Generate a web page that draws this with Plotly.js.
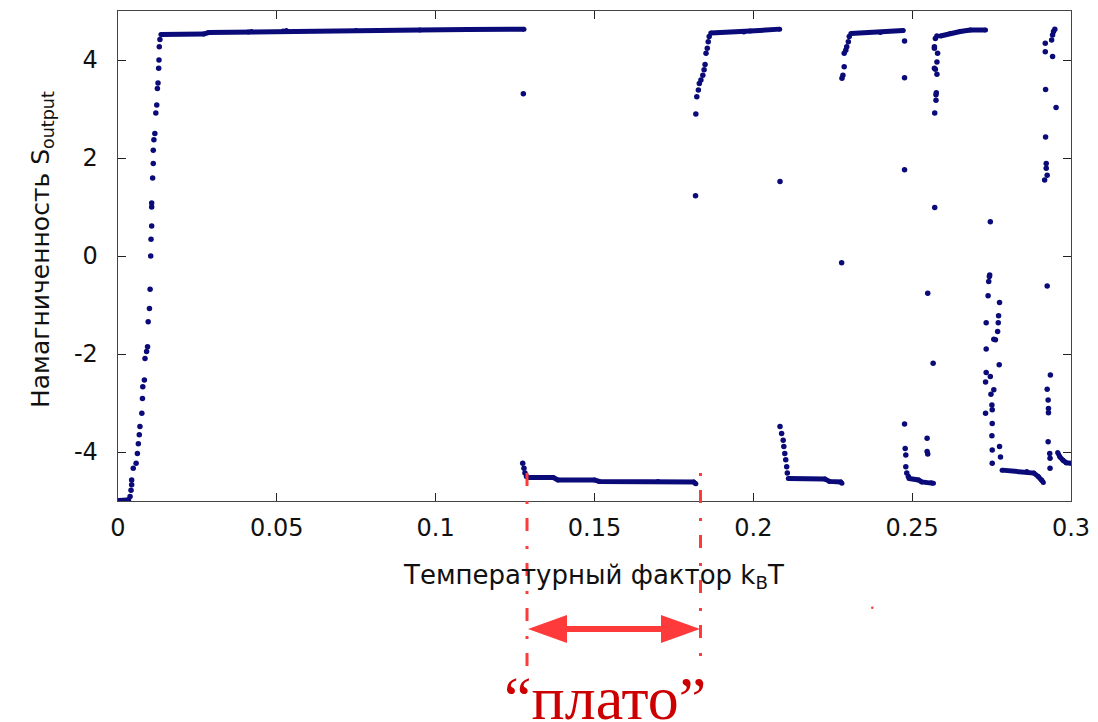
<!DOCTYPE html>
<html>
<head>
<meta charset="utf-8">
<script src="https://cdn.plot.ly/plotly-3.0.1.min.js"></script>
<style>html,body{margin:0;padding:0;background:#fff;}#chart{width:1098px;height:722px;}</style>
</head>
<body>
<div id="chart"></div>
<script>
// Dense plateau segments (null separates segments)
const bandX = [
  0.0003, 0.0030, null,
  0.0135, 0.0270, 0.0285, 0.0410, 0.0420, 0.0520, 0.0530, 0.0750, 0.0950, 0.1100, 0.1278, null,
  0.1292, 0.1370, 0.1385, 0.1500, 0.1515, 0.1700, 0.1812, 0.1819, null,
  0.1866, 0.1970, 0.1990, 0.2083, null,
  0.2110, 0.2225, 0.2240, 0.2275, 0.2279, null,
  0.2307, 0.2400, 0.2472, null,
  0.2490, 0.2520, 0.2530, 0.2560, 0.2567, null,
  0.2589, 0.2620, 0.2651, 0.2683, 0.2731, null,
  0.2783, 0.2861, 0.2883, 0.2897, 0.2908, 0.2913, null,
  0.2958, 0.2965, 0.2975, 0.2985, 0.3000
];
const bandY = [
  -4.99, -4.98, null,
  4.52, 4.53, 4.56, 4.57, 4.58, 4.59, 4.60, 4.60, 4.61, 4.62, 4.63, null,
  -4.52, -4.52, -4.57, -4.57, -4.60, -4.60, -4.61, -4.65, null,
  4.55, 4.57, 4.59, 4.63, null,
  -4.54, -4.55, -4.60, -4.61, -4.64, null,
  4.54, 4.56, 4.60, null,
  -4.54, -4.57, -4.61, -4.63, -4.64, null,
  4.49, 4.54, 4.58, 4.61, 4.61, null,
  -4.37, -4.40, -4.43, -4.50, -4.57, -4.62, null,
  -4.01, -4.10, -4.17, -4.22, -4.23
];

// Individual sample points
const ptX = [
  0.0033, 0.0038, 0.0041, 0.0043, 0.0043, 0.0048, 0.0057, 0.0061, 0.0064, 0.0067,
  0.0069, 0.0075, 0.0077, 0.0078, 0.0083, 0.0085, 0.0090, 0.0093, 0.0095, 0.0099,
  0.0101, 0.0103, 0.0104, 0.0106, 0.0106, 0.0106, 0.0109, 0.0111, 0.0111, 0.0113,
  0.0116, 0.0119, 0.0122, 0.0124, 0.0126, 0.0128, 0.0129, 0.0130, 0.0132,
  0.1276, 0.1274, 0.1278, 0.1281, 0.1286,
  0.1819, 0.1818, 0.1822, 0.1827, 0.1830, 0.1835, 0.1841, 0.1845, 0.1848, 0.1851,
  0.1855, 0.1858, 0.1861,
  0.2084, 0.2084, 0.2089, 0.2094, 0.2096, 0.2099, 0.2102, 0.2105, 0.2107,
  0.2278, 0.2279, 0.2282, 0.2286, 0.2286, 0.2291, 0.2294, 0.2299, 0.2302,
  0.2476, 0.2476, 0.2476, 0.2476, 0.2478, 0.2480, 0.2480, 0.2483, 0.2488,
  0.2547, 0.2547, 0.2549, 0.2549, 0.2566, 0.2571,
  0.2571, 0.2575, 0.2575, 0.2576, 0.2578, 0.2573, 0.2570, 0.2578, 0.2580, 0.2570,
  0.2570, 0.2573, 0.2578,
  0.2746, 0.2744, 0.2743, 0.2741, 0.2739, 0.2775, 0.2733, 0.2772, 0.2771, 0.2769,
  0.2762, 0.2757, 0.2733, 0.2774, 0.2733, 0.2746, 0.2757, 0.2748, 0.2731, 0.2751,
  0.2752, 0.2731, 0.2752, 0.2751, 0.2775, 0.2752, 0.2778, 0.2752,
  0.2919, 0.2919, 0.2942, 0.2939, 0.2942, 0.2945, 0.2949, 0.2953, 0.2920, 0.2920,
  0.2922, 0.2922, 0.2925, 0.2917, 0.2925, 0.2935, 0.2925, 0.2928, 0.2929, 0.2929,
  0.2928, 0.2933, 0.2934, 0.2934
];
const ptY = [
  -4.98, -4.91, -4.78, -4.67, -4.57, -4.33, -4.23, -4.03, -3.83, -3.65,
  -3.48, -3.21, -2.91, -2.67, -2.53, -2.09, -1.95, -1.85, -1.34, -1.07,
  -0.68, 0.00, 0.34, 0.61, 1.00, 1.08, 1.59, 1.89, 2.16, 2.37,
  2.50, 2.92, 3.08, 3.42, 3.53, 3.83, 4.00, 4.27, 4.42,
  3.31, -4.23, -4.33, -4.43, -4.50,
  2.90, 1.23, 3.25, 3.39, 3.52, 3.59, 3.69, 3.80, 3.91, 4.14,
  4.24, 4.37, 4.48,
  1.52, -3.48, -3.62, -3.76, -3.89, -4.03, -4.16, -4.30, -4.43,
  -0.14, 3.63, 3.69, 3.86, 4.14, 4.20, 4.27, 4.37, 4.48,
  4.39, 3.64, 1.76, -3.43, -3.93, -4.06, -4.30, -4.43, -4.50,
  -3.72, -3.99, -4.04, -0.76, -2.19, 0.99,
  2.92, 3.18, 3.29, 3.33, 3.71, 3.81, 3.83, 3.96, 4.14, 4.27,
  4.24, 4.44, 4.49,
  0.70, -0.39, -0.42, -0.52, -0.81, -0.95, -1.36, -1.22, -1.36, -1.54,
  -1.71, -1.70, -1.90, -2.22, -2.38, -2.46, -2.73, -2.82, -2.57, -3.04,
  -3.14, -3.21, -3.42, -3.67, -3.89, -3.96, -4.10, -4.23,
  4.34, 4.17, 4.07, 4.41, 4.51, 4.58, 4.63, 3.03, 3.40, 2.43,
  1.89, 1.79, 1.65, 1.55, -0.61, -2.43, -2.72, -2.94, -3.11, -3.20,
  -3.79, -4.03, -4.13, -4.33
];

const xTickVals = [0, 0.05, 0.1, 0.15, 0.2, 0.25, 0.3];
const xTickText = ['0', '0.05', '0.1', '0.15', '0.2', '0.25', '0.3'];
const yTickVals = [-4, -2, 0, 2, 4];
const yTickText = ['-4', '-2', '0', '2', '4'];

const navy = '#0a0a78';
const red = '#ff3a3a';
const axisFont = {family: 'DejaVu Sans', size: 24, color: '#111'};

const traces = [
  {x: bandX, y: bandY, type: 'scatter', mode: 'lines+markers', connectgaps: false,
   line: {color: navy, width: 5}, marker: {color: navy, size: 5}, hoverinfo: 'skip'},
  {x: ptX, y: ptY, type: 'scatter', mode: 'markers',
   marker: {color: navy, size: 5.5}}
];

// helper: plot pixels -> paper coords for overlay annotations
const L = 118, R = 1071, T = 11, B = 501;
const px = v => (v - L) / (R - L);
const py = v => (B - v) / (B - T);

const dashPat = '13px,15px,3px,14px';
const shapes = [
  {type: 'line', xref: 'paper', yref: 'paper', x0: px(527), x1: px(527), y0: py(473), y1: py(668),
   line: {color: red, width: 3, dash: dashPat}},
  {type: 'line', xref: 'paper', yref: 'paper', x0: px(700.5), x1: px(700.5), y0: py(473), y1: py(668),
   line: {color: red, width: 3, dash: '3px,14px,13px,15px'}},
  {type: 'line', xref: 'paper', yref: 'paper', x0: px(560), x1: px(668), y0: py(629), y1: py(629),
   line: {color: red, width: 6}},
  {type: 'path', xref: 'paper', yref: 'paper',
   path: `M${px(528)},${py(629)} L${px(567)},${py(615)} L${px(567)},${py(643)} Z`,
   fillcolor: red, line: {color: red, width: 0}},
  {type: 'path', xref: 'paper', yref: 'paper',
   path: `M${px(700)},${py(629)} L${px(661)},${py(615)} L${px(661)},${py(643)} Z`,
   fillcolor: red, line: {color: red, width: 0}},
  {type: 'circle', xref: 'paper', yref: 'paper', x0: px(871), x1: px(873.5), y0: py(606.5), y1: py(609),
   fillcolor: red, line: {width: 0}}
];

const annotations = [
  {xref: 'paper', yref: 'paper', x: px(593), y: py(576), xanchor: 'center', yanchor: 'middle',
   text: 'Температурный фактор k<sub>B</sub>T', showarrow: false,
   font: {family: 'DejaVu Sans', size: 26, color: '#111'}},
  {xref: 'paper', yref: 'paper', x: px(42), y: py(250), xanchor: 'center', yanchor: 'middle',
   text: 'Намагниченность S<sub>output</sub>', showarrow: false, textangle: -90,
   font: {family: 'DejaVu Sans', size: 25, color: '#111'}},
  {xref: 'paper', yref: 'paper', x: px(605), y: py(698), xanchor: 'center', yanchor: 'middle',
   text: '\u201Cплато\u201D', showarrow: false,
   font: {family: 'Liberation Serif', size: 62, color: '#cc0000'}}
];

const layout = {
  width: 1098, height: 722,
  margin: {l: L, r: 1098 - R, t: T, b: 722 - B, pad: 0},
  paper_bgcolor: '#fff', plot_bgcolor: '#fff',
  showlegend: false,
  xaxis: {range: [0, 0.3], tickvals: xTickVals, ticktext: xTickText,
    ticks: 'inside', ticklen: 8, tickwidth: 1, tickcolor: '#222',
    mirror: 'allticks', showline: true, linecolor: '#444', linewidth: 1.3,
    showgrid: false, zeroline: false, tickfont: axisFont, ticklabelstandoff: 5},
  yaxis: {range: [-5, 5], tickvals: yTickVals, ticktext: yTickText,
    ticks: 'inside', ticklen: 8, tickwidth: 1, tickcolor: '#222',
    mirror: 'allticks', showline: true, linecolor: '#444', linewidth: 1.3,
    showgrid: false, zeroline: false, tickfont: axisFont, ticklabelstandoff: 14},
  shapes: shapes,
  annotations: annotations
};

Plotly.newPlot('chart', traces, layout, {staticPlot: true});
</script>
</body>
</html>
